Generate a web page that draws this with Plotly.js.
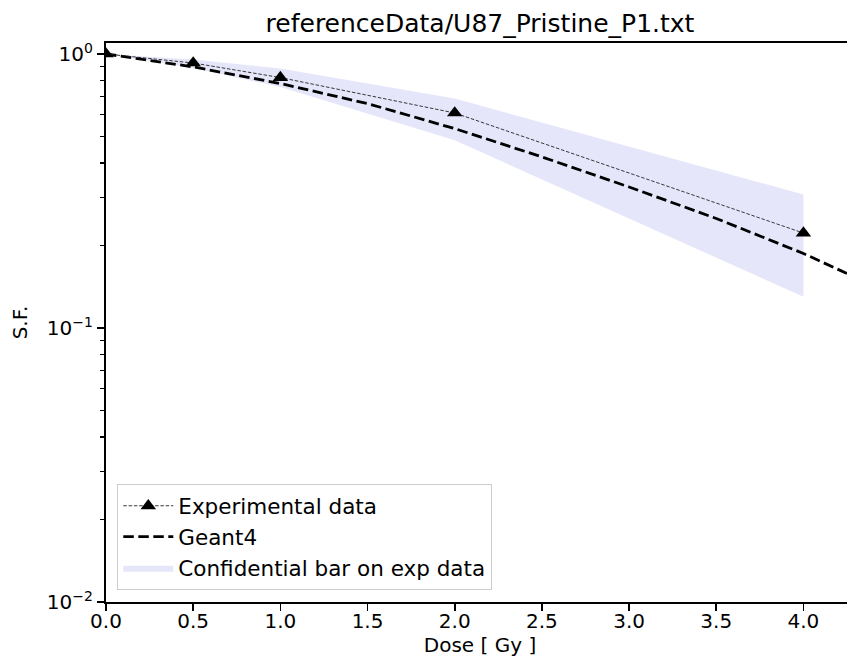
<!DOCTYPE html>
<html>
<head>
<meta charset="utf-8">
<script src="https://cdn.plot.ly/plotly-3.0.1.min.js"></script>
<style>
  html, body { margin: 0; padding: 0; overflow: hidden; background: #fff; }
  #chart { width: 854px; height: 665px; }
</style>
</head>
<body>
<div id="chart"></div>
<script>
// Experimental data
const doseExp = [0.0, 0.5, 1.0, 2.0, 4.0];
const sfExp = [1.0, 0.927, 0.820, 0.609, 0.222];
// Confidence band on experimental data
const bandUpper = [1.0, 0.954, 0.885, 0.688, 0.307];
const bandLower = [1.0, 0.888, 0.758, 0.484, 0.130];
// Geant4 simulation
const doseG4 = [0.0, 0.5, 1.0, 1.5, 2.0, 2.5, 3.0, 3.5, 4.0, 4.25];
const sfG4 = [1.0, 0.897, 0.780, 0.659, 0.534, 0.421, 0.327, 0.251, 0.187, 0.158];
// Axis ticks
const xTicks = [0.0, 0.5, 1.0, 1.5, 2.0, 2.5, 3.0, 3.5, 4.0];
const yTicks = [0.01, 0.1, 1];
const yTickText = ['10<sup>\u22122</sup>', '10<sup>\u22121</sup>', '10<sup>0</sup>'];
const yMinor = [0.02,0.03,0.04,0.05,0.06,0.07,0.08,0.09,0.2,0.3,0.4,0.5,0.6,0.7,0.8,0.9];

const bandX = doseExp.concat(doseExp.slice().reverse());
const bandY = bandUpper.concat(bandLower.slice().reverse());

const FONT = 'DejaVu Sans, sans-serif';

const data = [
  {
    x: bandX, y: bandY, type: 'scatter', mode: 'lines',
    fill: 'toself', fillcolor: '#e6e6fa', line: {width: 0, color: '#e6e6fa'},
    name: 'Confidential bar on exp data', legendrank: 3, hoverinfo: 'skip'
  },
  {
    x: doseG4, y: sfG4, type: 'scatter', mode: 'lines',
    line: {color: 'black', width: 2.8, dash: '10.5px,4.5px'},
    name: 'Geant4', legendrank: 2
  },
  {
    x: doseExp, y: sfExp, type: 'scatter', mode: 'lines+markers',
    line: {color: '#222', width: 0.9, dash: '3.5px,1.8px'},
    marker: {symbol: 'triangle-up', size: 13.5, color: 'black'},
    name: 'Experimental data', legendrank: 1
  }
];

const layout = {
  width: 854, height: 665,
  margin: {l: 106, r: 0, t: 43, b: 63},
  paper_bgcolor: '#fff', plot_bgcolor: '#fff',
  font: {family: FONT, size: 20, color: 'black'},
  showlegend: true,
  title: {
    text: 'referenceData/U87_Pristine_P1.txt',
    font: {family: FONT, size: 25, color: 'black'},
    x: 0.5, xref: 'paper', xanchor: 'center',
    y: 1 - 23 / 665, yref: 'container', yanchor: 'middle'
  },
  xaxis: {
    range: [0, 4.29],
    tickvals: xTicks, tickformat: '.1f',
    ticks: 'outside', ticklen: 7, tickwidth: 1.7, tickcolor: 'black',
    ticklabelstandoff: -7,
    showline: true, linecolor: 'black', linewidth: 1.7, mirror: true,
    showgrid: false, zeroline: false,
    tickfont: {family: FONT, size: 20, color: 'black'},
    title: {text: 'Dose [ Gy ]', font: {family: FONT, size: 20, color: 'black'}, standoff: 4}
  },
  yaxis: {
    type: 'log', range: [-2, 0.040],
    tickvals: yTicks, ticktext: yTickText,
    ticks: 'outside', ticklen: 7.5, tickwidth: 1.7, tickcolor: 'black',
    minor: {tickvals: yMinor, ticks: 'outside', ticklen: 4.3, tickwidth: 1.3, tickcolor: 'black', showgrid: false},
    showline: true, linecolor: 'black', linewidth: 1.7, mirror: true,
    showgrid: false, zeroline: false,
    tickfont: {family: FONT, size: 20, color: 'black'},
    title: {text: 'S.F.', font: {family: FONT, size: 20, color: 'black'}, standoff: 14}
  },
  legend: {
    x: 0.0147, y: 0.0215, xanchor: 'left', yanchor: 'bottom',
    bgcolor: 'rgba(255,255,255,0.8)', bordercolor: '#cccccc', borderwidth: 1.3,
    font: {family: FONT, size: 21.5, color: 'black'},
    itemwidth: 50, traceorder: 'normal'
  }
};

Plotly.newPlot('chart', data, layout, {displayModeBar: false, staticPlot: true});
</script>
</body>
</html>
